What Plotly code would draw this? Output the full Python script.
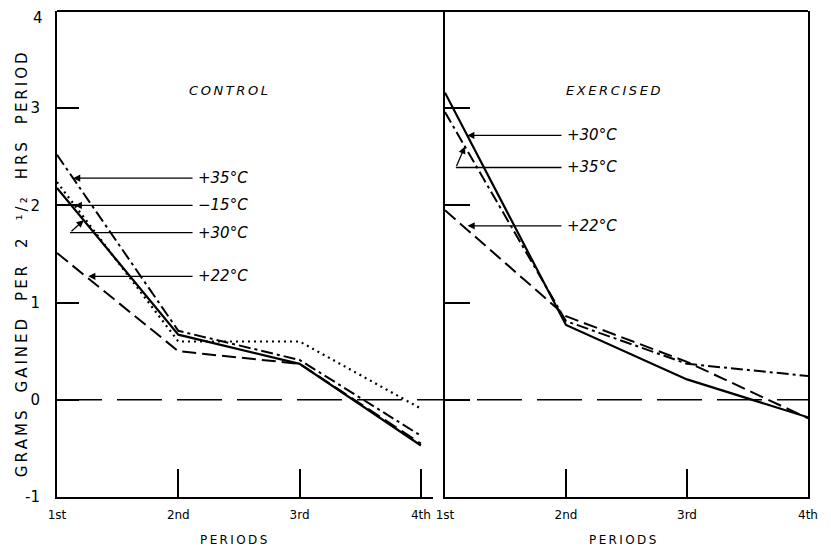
import plotly.graph_objects as go

periods = ["1st", "2nd", "3rd", "4th"]

# CONTROL panel (grams gained per 2 1/2 hrs period)
control_p35 = [2.52, 0.71, 0.41, -0.37]
control_m15 = [2.24, 0.60, 0.60, -0.09]
control_p30 = [2.18, 0.67, 0.37, -0.47]
control_p22 = [1.51, 0.50, 0.37, -0.45]

# EXERCISED panel
exer_p30 = [3.16, 0.77, 0.21, -0.18]
exer_p35 = [2.96, 0.81, 0.37, 0.245]
exer_p22 = [1.95, 0.86, 0.39, -0.19]

y_ticks = [-1, 0, 1, 2, 3, 4]
y_ticktext = ["-1", "0", "1", "2", "3", ""]   # top label "4" drawn as annotation
y_top_label = "4"

FONT = "DejaVu Sans"
SOLID = "solid"
DASHDOT = "12px,4px,3px,4px"
DOT = "2px,4px"
DASH = "14px,6px"

def spaced(s, sep="\u2009", wsep="\u2003\u2009"):
    return wsep.join(sep.join(list(w)) for w in s.split(" "))

fig = go.Figure()

def add(xa, ya, vals, dash, width=2.0):
    fig.add_trace(go.Scatter(x=periods, y=vals, mode="lines", xaxis=xa, yaxis=ya,
                             line=dict(color="black", width=width, dash=dash),
                             showlegend=False, hoverinfo="skip"))

add("x", "y", control_p22, DASH)
add("x", "y", control_m15, DOT, 2.2)
add("x", "y", control_p35, DASHDOT)
add("x", "y", control_p30, SOLID, 2.2)
add("x2", "y2", exer_p22, DASH)
add("x2", "y2", exer_p35, DASHDOT)
add("x2", "y2", exer_p30, SOLID, 2.2)

xcommon = dict(type="category", categoryorder="array", categoryarray=periods,
               showline=True, linecolor="black", linewidth=2, showgrid=False,
               zeroline=False, ticks="inside", ticklen=28, tickwidth=2,
               tickcolor="black", ticklabelstandoff=6, automargin=False,
               tickfont=dict(family=FONT, size=12, color="black"))
ycommon = dict(range=[-1, 4], tickvals=y_ticks, showline=True, linecolor="black",
               linewidth=2, showgrid=False, zeroline=False, ticks="inside",
               tickwidth=1.5, tickcolor="black", automargin=False)

# the page body adds an 8px offset, so the figure is sized to fit the window
fig.update_layout(
    width=823, height=542,
    margin=dict(l=49, r=23, t=3, b=53),
    paper_bgcolor="white", plot_bgcolor="white",
    xaxis=dict(domain=[0, 0.5007], range=[0, 3.1], anchor="y", **xcommon),
    xaxis2=dict(domain=[0.5166, 1], range=[0, 3], anchor="y2", **xcommon),
    yaxis=dict(anchor="x", ticklen=22, ticktext=y_ticktext, ticklabelstandoff=12,
               tickfont=dict(family=FONT, size=15, color="black"), **ycommon),
    yaxis2=dict(anchor="x2", ticklen=25, showticklabels=False, mirror=True, **ycommon),
)

# frame top line and zero reference line
fig.add_shape(type="line", xref="paper", yref="paper", x0=0, x1=1, y0=1, y1=1,
              line=dict(color="black", width=2))
fig.add_shape(type="line", xref="paper", yref="y", x0=0, x1=1, y0=0, y1=0,
              line=dict(color="black", width=1.5, dash="45px,15px"))

ann = []
LBL = dict(family=FONT, size=15, color="black")

ann.append(dict(xref="paper", yref="y", x=0, xshift=-12, y=y_ticks[-1], yshift=4,
                text=y_top_label, xanchor="right", yanchor="top", showarrow=False,
                font=dict(family=FONT, size=15, color="black")))

def on_line(vals, yv):
    t = (vals[0] - yv) / (vals[0] - vals[1])
    return t

def leader(xr, yr, tipx, y, tailx, text, head=2):
    ann.append(dict(xref=xr, yref=yr, axref=xr, ayref=yr, x=tipx, y=y, ax=tailx, ay=y,
                    text="", showarrow=True, arrowhead=head, arrowsize=1.1,
                    arrowwidth=1.3, arrowcolor="black"))
    ann.append(dict(xref=xr, yref=yr, x=tailx + 0.02, y=y, text="<i>%s</i>" % text,
                    xanchor="left", yanchor="middle", showarrow=False, font=LBL))

# CONTROL labels
leader("x", "y", on_line(control_p35, 2.28), 2.28, 1.13, "+35°C")
leader("x", "y", on_line(control_m15, 2.00), 2.00, 1.13, "\u221215°C")
leader("x", "y", 0.107, 1.72, 1.13, "+30°C", head=0)
ann.append(dict(xref="x", yref="y", axref="x", ayref="y", x=0.22,
                y=control_p30[0] - 0.22 * (control_p30[0] - control_p30[1]),
                ax=0.107, ay=1.72, text="", showarrow=True, arrowhead=2,
                arrowsize=1.1, arrowwidth=1.3, arrowcolor="black"))
leader("x", "y", on_line(control_p22, 1.27) + 0.02, 1.27, 1.13, "+22°C")

# EXERCISED labels
leader("x2", "y2", on_line(exer_p30, 2.72), 2.72, 0.975, "+30°C")
leader("x2", "y2", 0.09, 2.39, 0.975, "+35°C", head=0)
ann.append(dict(xref="x2", yref="y2", axref="x2", ayref="y2", x=0.165,
                y=exer_p35[0] - 0.165 * (exer_p35[0] - exer_p35[1]),
                ax=0.09, ay=2.39, text="", showarrow=True, arrowhead=2,
                arrowsize=1.1, arrowwidth=1.3, arrowcolor="black"))
leader("x2", "y2", on_line(exer_p22, 1.79) + 0.04, 1.79, 0.975, "+22°C")

# panel titles
ann.append(dict(xref="x", yref="y", x=1.07, y=3.18, text="<i>%s</i>" % spaced("CONTROL"),
                xanchor="left", yanchor="middle", showarrow=False,
                font=dict(family=FONT, size=13, color="black")))
ann.append(dict(xref="x2", yref="y2", x=0.98, y=3.18, text="<i>%s</i>" % spaced("EXERCISED"),
                xanchor="left", yanchor="middle", showarrow=False,
                font=dict(family=FONT, size=13, color="black")))

# axis titles
for xr, xc in (("x domain", 0.47), ("x2 domain", 0.49)):
    ann.append(dict(xref=xr, yref="paper", x=xc, y=0, yshift=-43, text=spaced("PERIODS"),
                    xanchor="center", yanchor="middle", showarrow=False,
                    font=dict(family=FONT, size=12, color="black")))
ann.append(dict(xref="paper", yref="paper", x=0, xshift=-35, y=0.477,
                text=spaced("GRAMS GAINED PER 2 ¹/₂ HRS PERIOD"), textangle=-90,
                xanchor="center", yanchor="middle", showarrow=False,
                font=dict(family=FONT, size=15, color="black")))

fig.update_layout(annotations=ann)
fig.write_html("out.html")
